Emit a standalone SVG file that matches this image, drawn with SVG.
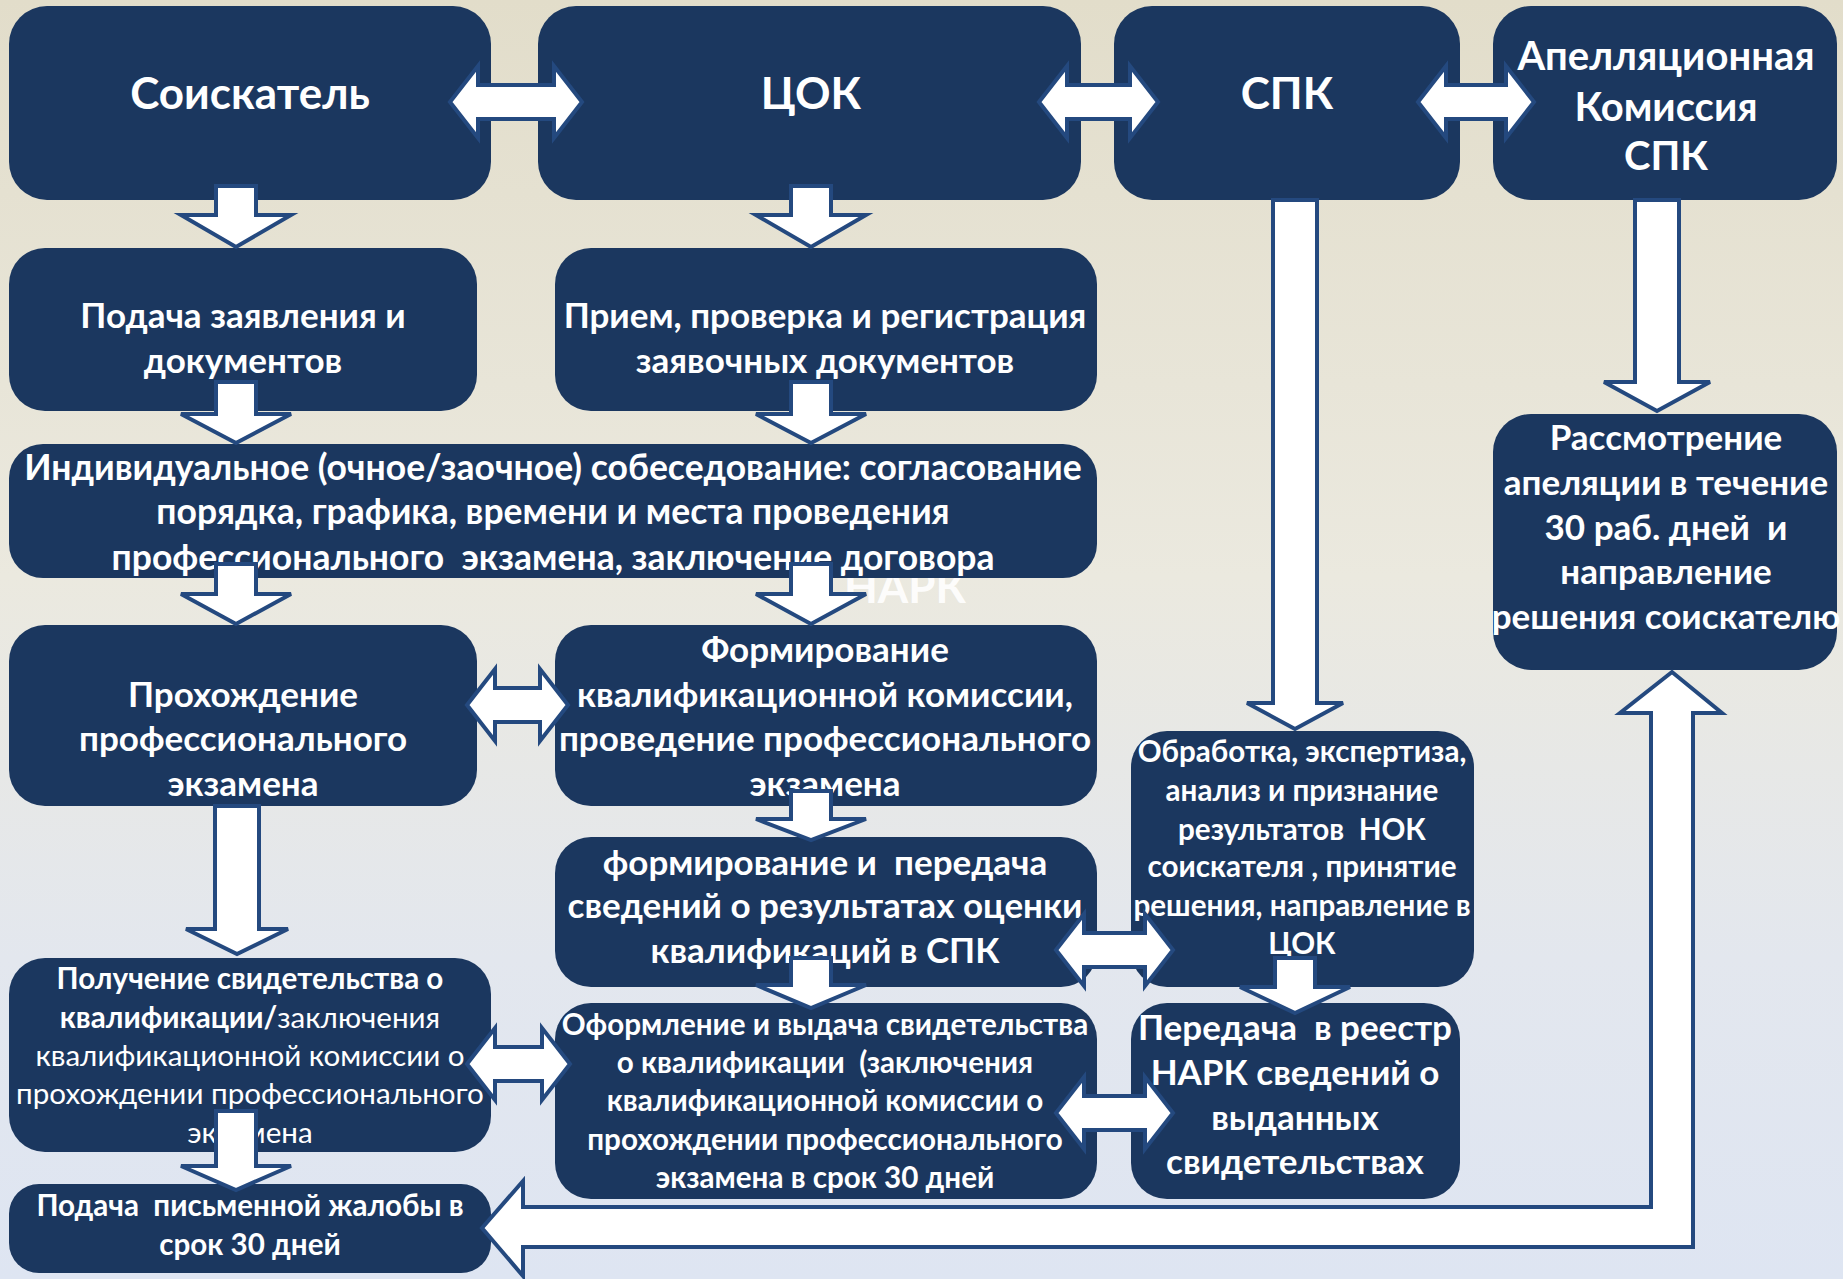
<svg xmlns="http://www.w3.org/2000/svg" width="1843" height="1279" viewBox="0 0 1843 1279" xml:space="preserve">
<defs>
<linearGradient id="bg" x1="0" y1="0" x2="0" y2="1">
<stop offset="0" stop-color="#e2ddca"/>
<stop offset="0.45" stop-color="#ebe9df"/>
<stop offset="0.75" stop-color="#e3e7ee"/>
<stop offset="1" stop-color="#dee5f2"/>
</linearGradient>
</defs>
<style>
.box{fill:#1b375f}
.arr{fill:#ffffff;stroke:#24497f;stroke-width:4;stroke-linejoin:miter}
text{font-family:Lato,"Open Sans","Liberation Sans",sans-serif;fill:#ffffff;font-weight:bold;text-anchor:middle;white-space:pre}
.t1{font-size:44px}
.t2{font-size:40px}
.t3{font-size:35px}
.t7{font-size:35.5px}
.t4{font-size:29.6px}
.n{font-weight:normal}
.wm{font-size:44px;fill:#ffffff;opacity:0.9}
</style>
<rect x="0" y="0" width="1843" height="1279" fill="url(#bg)"/>
<text class="wm" x="905" y="603">НАРК</text>
<g id="n1"><rect class="box" x="9" y="6" width="482" height="194" rx="38"/><text class="t1" x="250" y="109">Соискатель</text></g>
<g id="n2"><rect class="box" x="538" y="6" width="543" height="194" rx="38"/><text class="t1" x="811" y="109">ЦОК</text></g>
<g id="n3"><rect class="box" x="1114" y="6" width="346" height="194" rx="38"/><text class="t1" x="1287" y="109">СПК</text></g>
<g id="n4"><rect class="box" x="1493" y="6" width="344" height="194" rx="38"/><text class="t2" x="1666" y="70">Апелляционная</text><text class="t2" x="1666" y="121">Комиссия</text><text class="t2" x="1666" y="170">СПК</text></g>
<g id="n5"><rect class="box" x="9" y="248" width="468" height="163" rx="36"/><text class="t3" x="243" y="328">Подача заявления и</text><text class="t3" x="243" y="373">документов</text></g>
<g id="n6"><rect class="box" x="555" y="248" width="542" height="163" rx="36"/><text class="t3" x="825" y="328">Прием, проверка и регистрация</text><text class="t3" x="825" y="373">заявочных документов</text></g>
<g id="n7"><rect class="box" x="9" y="444" width="1088" height="134" rx="34"/><text class="t7" x="553" y="480">Индивидуальное (очное/заочное) собеседование: согласование</text><text class="t7" x="553" y="524">порядка, графика, времени и места проведения</text><text class="t7" x="553" y="570">профессионального  экзамена, заключение договора</text></g>
<g id="n8"><rect class="box" x="9" y="625" width="468" height="181" rx="36"/><text class="t3" x="243" y="707">Прохождение</text><text class="t3" x="243" y="751">профессионального</text><text class="t3" x="243" y="796">экзамена</text></g>
<g id="n9"><rect class="box" x="555" y="625" width="542" height="181" rx="36"/><text class="t3" x="825" y="662">Формирование</text><text class="t3" x="825" y="707">квалификационной комиссии,</text><text class="t3" x="825" y="751">проведение профессионального</text><text class="t3" x="825" y="796">экзамена</text></g>
<g id="n10"><rect class="box" x="555" y="837" width="542" height="150" rx="36"/><text class="t3" x="825" y="875">формирование и  передача</text><text class="t3" x="825" y="918">сведений о результатах оценки</text><text class="t3" x="825" y="963">квалификаций в СПК</text></g>
<g id="n11"><rect class="box" x="1131" y="731" width="343" height="256" rx="36"/><text class="t4" x="1302" y="762">Обработка, экспертиза,</text><text class="t4" x="1302" y="801">анализ и признание</text><text class="t4" x="1302" y="840">результатов  НОК</text><text class="t4" x="1302" y="877">соискателя , принятие</text><text class="t4" x="1302" y="916">решения, направление в</text><text class="t4" x="1302" y="954">ЦОК</text></g>
<g id="n12"><rect class="box" x="1493" y="414" width="344" height="256" rx="38"/><text class="t3" x="1666" y="450">Рассмотрение</text><text class="t3" x="1666" y="495">апеляции в течение</text><text class="t3" x="1666" y="540">30 раб. дней  и</text><text class="t3" x="1666" y="584">направление</text><text class="t3" x="1666" y="629">решения соискателю</text></g>
<g id="n13"><rect class="box" x="9" y="958" width="482" height="194" rx="36"/><text class="t4" x="250" y="989">Получение свидетельства о</text><text class="t4" x="250" y="1028">квалификации/<tspan class="n">заключения</tspan></text><text class="t4 n" x="250" y="1066">квалификационной комиссии о</text><text class="t4 n" x="250" y="1104">прохождении профессионального</text><text class="t4 n" x="250" y="1143">экзамена</text></g>
<g id="n14"><rect class="box" x="555" y="1003" width="542" height="196" rx="36"/><text class="t4" x="825" y="1035">Оформление и выдача свидетельства</text><text class="t4" x="825" y="1073">о квалификации  (заключения</text><text class="t4" x="825" y="1111">квалификационной комиссии о</text><text class="t4" x="825" y="1150">прохождении профессионального</text><text class="t4" x="825" y="1188">экзамена в срок 30 дней</text></g>
<g id="n15"><rect class="box" x="1131" y="1003" width="329" height="196" rx="36"/><text class="t3" x="1295" y="1040">Передача  в реестр</text><text class="t3" x="1295" y="1085">НАРК сведений о</text><text class="t3" x="1295" y="1130">выданных</text><text class="t3" x="1295" y="1174">свидетельствах</text></g>
<g id="n16"><rect class="box" x="9" y="1184" width="482" height="89" rx="30"/><text class="t4" x="250" y="1216">Подача  письменной жалобы в</text><text class="t4" x="250" y="1255">срок 30 дней</text></g>
<g id="connectors">
<polygon class="arr" points="216,186 256,186 256,215 291,215 236,247 181,215 216,215"/>
<polygon class="arr" points="791,186 831,186 831,215 866,215 811,247 756,215 791,215"/>
<polygon class="arr" points="216,382 256,382 256,414 291,414 236,443 181,414 216,414"/>
<polygon class="arr" points="791,382 831,382 831,414 866,414 811,443 756,414 791,414"/>
<polygon class="arr" points="216,564 256,564 256,594 291,594 236,624 181,594 216,594"/>
<polygon class="arr" points="791,564 831,564 831,594 866,594 811,624 756,594 791,594"/>
<polygon class="arr" points="791,791 831,791 831,819 866,819 811,840 756,819 791,819"/>
<polygon class="arr" points="791,958 831,958 831,985 866,985 811,1008 756,985 791,985"/>
<polygon class="arr" points="215,806 259,806 259,929 288,929 237,954 186,929 215,929"/>
<polygon class="arr" points="216,1111 256,1111 256,1166 291,1166 236,1190 181,1166 216,1166"/>
<polygon class="arr" points="1273,200 1317,200 1317,703 1343,703 1295,729 1247,703 1273,703"/>
<polygon class="arr" points="1635,200 1679,200 1679,382 1710,382 1657,411 1604,382 1635,382"/>
<polygon class="arr" points="1275,958 1315,958 1315,987 1350,987 1295,1013 1240,987 1275,987"/>
<polygon class="arr" points="450,102 478,66 478,85 554,85 554,66 582,102 554,138 554,119 478,119 478,138"/>
<polygon class="arr" points="1039,102 1067,66 1067,85 1130,85 1130,66 1158,102 1130,138 1130,119 1067,119 1067,138"/>
<polygon class="arr" points="1418,102 1446,66 1446,85 1506,85 1506,66 1534,102 1506,138 1506,119 1446,119 1446,138"/>
<polygon class="arr" points="467,705 495,669 495,688 540,688 540,669 568,705 540,741 540,722 495,722 495,741"/>
<polygon class="arr" points="1056,950 1084,914 1084,933 1145,933 1145,914 1173,950 1145,986 1145,967 1084,967 1084,986"/>
<polygon class="arr" points="467,1064 495,1028 495,1047 542,1047 542,1028 570,1064 542,1100 542,1081 495,1081 495,1100"/>
<polygon class="arr" points="1056,1113 1084,1077 1084,1096 1145,1096 1145,1077 1173,1113 1145,1149 1145,1130 1084,1130 1084,1149"/>
<polygon class="arr" points="482,1228 523,1181 523,1207 1651,1207 1651,713 1620,713 1672,672 1722,713 1693,713 1693,1247 523,1247 523,1276"/>
</g>
</svg>
